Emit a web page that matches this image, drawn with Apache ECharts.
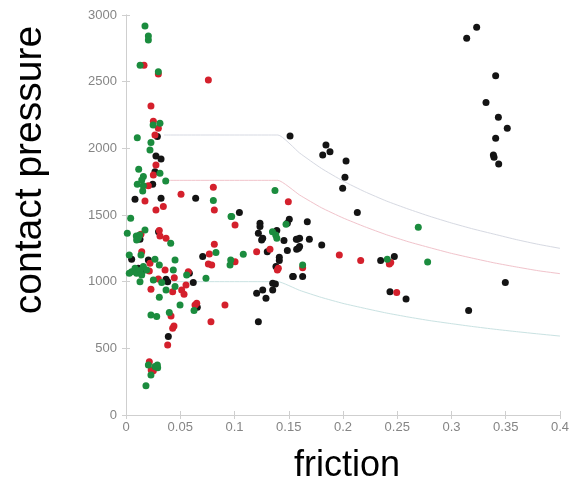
<!DOCTYPE html>
<html>
<head>
<meta charset="utf-8">
<script src="https://cdn.jsdelivr.net/npm/echarts@6/dist/echarts.min.js"></script>
<style>html,body{margin:0;padding:0;background:#fff}#c{width:574px;height:481px}</style>
</head>
<body>
<div id="c"></div>
<script>
// ---- data (friction, contact pressure) ----
const xTicks = [0, 0.05, 0.1, 0.15, 0.2, 0.25, 0.3, 0.35, 0.4];
const yTicks = [0, 500, 1000, 1500, 2000, 2500, 3000];

const blackPoints = [
  [0.0289,2088],[0.0276,1943],[0.0323,1920],[0.0267,1825],[0.0246,1730],[0.0083,1618],[0.0323,1625],[0.0642,1625],[0.1045,1518],
  [0.0129,1318],[0.0300,1375],[0.0052,1168],[0.0206,1163],[0.0113,1100],[0.0160,1085],[0.0369,1018],[0.0384,1000],[0.0584,1063],
  [0.0620,993],[0.0707,1188],[0.0657,808],[0.0390,588],
  [0.1235,1438],[0.1235,1413],[0.1220,1363],[0.1250,1313],[0.1260,1325],
  [0.1204,913],[0.1260,938],[0.1290,875],[0.1220,700],
  [0.1390,1383],[0.1505,1468],[0.1487,1438],[0.1456,1308],[0.1580,1318],[0.1302,1225],[0.1487,1233],[0.1573,1243],
  [0.1413,1158],[0.1413,1183],[0.1382,1113],[0.1542,1038],[0.1352,988],[0.1377,983],[0.1352,938],
  [0.1512,2093],[0.1843,2025],[0.1813,1950],[0.1880,1975],[0.2028,1905],[0.2018,1783],[0.1997,1700],[0.2132,1518],
  [0.1671,1450],[0.1570,1318],[0.1600,1325],[0.1690,1318],[0.1590,1250],[0.1600,1263],[0.1804,1275],[0.1536,1038],[0.1628,1038],
  [0.2347,1158],[0.2473,1188],[0.2433,925],[0.2581,870],
  [0.3140,2825],[0.3232,2908],[0.3407,2545],[0.3318,2343],[0.3432,2233],[0.3514,2150],[0.3407,2075],
  [0.3386,1950],[0.3392,1933],[0.3435,1883],[0.3496,993],[0.3158,783]
];

const redPoints = [
  [0.0166,2623],[0.0298,2558],[0.0759,2513],[0.0230,2318],[0.0252,2203],[0.0298,2150],[0.0267,2100],[0.0276,1875],
  [0.0252,1800],[0.0206,1720],[0.0507,1655],[0.0805,1708],[0.0175,1605],[0.0276,1538],[0.0344,1563],[0.0814,1538],
  [0.0138,1355],[0.0307,1383],[0.0313,1343],[0.0369,1325],[0.0145,1225],[0.0221,1138],[0.0215,1080],[0.0230,943],
  [0.0298,1020],[0.0360,1088],[0.0445,1030],[0.0430,925],[0.0513,938],[0.0535,905],[0.0553,975],[0.0574,1075],
  [0.0759,1133],[0.0814,1280],[0.0768,1208],[0.0636,825],[0.0652,838],[0.0783,700],[0.0912,825],[0.1005,1150],
  [0.1204,1225],[0.1005,1425],[0.0384,525],[0.0430,650],[0.0442,668],[0.0215,400],[0.0232,338],[0.0252,332],[0.0415,743],
  [0.1496,1600],[0.0790,1125],[0.1327,1243],[0.1404,1100],[0.1395,1088],[0.1966,1200],[0.2163,1158],[0.1628,1105],
  [0.2427,1133],[0.2440,1143],[0.2495,918]
];

const greenPoints = [
  [0.0175,2918],[0.0206,2843],[0.0206,2813],[0.0130,2623],[0.0298,2575],[0.0313,2188],[0.0250,2175],[0.0104,2080],
  [0.0230,2043],[0.0221,1988],[0.0117,1843],[0.0313,1813],[0.0160,1788],[0.0145,1763],[0.0366,1755],[0.0104,1730],
  [0.0160,1720],[0.0154,1680],[0.1373,1683],[0.0805,1608],[0.0968,1488],[0.0043,1475],
  [0.0012,1363],[0.0175,1388],[0.0095,1343],[0.0125,1350],[0.0113,1325],[0.0098,1313],[0.0412,1288],[0.0138,1200],
  [0.0030,1200],[0.0267,1168],[0.0307,1125],[0.0452,1163],
  [0.0052,1075],[0.0083,1100],[0.0098,1063],[0.0129,1083],[0.0145,1050],[0.0160,1113],[0.0190,1088],[0.0030,1063],
  [0.0129,1000],[0.0252,1013],[0.0329,993],[0.0307,883],[0.0369,938],[0.0452,963],[0.0436,1088],[0.0498,825],
  [0.0559,1050],[0.0627,783],[0.0737,1025],[0.0829,1218],[0.0965,1163],[0.0959,1125],[0.1081,1205],[0.0974,1488],
  [0.0230,750],[0.0283,738],[0.0399,768],
  [0.0206,375],[0.0267,363],[0.0292,355],[0.0289,375],[0.0230,300],[0.0184,220],
  [0.1350,1375],[0.1380,1350],[0.1390,1325],[0.1475,1430],[0.1628,1125],[0.2694,1408],[0.2780,1148],[0.2408,1168]
];

// limit curves
const upperCurve = [
  [0.035,2100],[0.14,2100],[0.16,1965],[0.18,1850],[0.20,1755],[0.22,1675],[0.24,1605],[0.26,1545],
  [0.28,1490],[0.30,1440],[0.32,1395],[0.34,1355],[0.36,1315],[0.38,1280],[0.40,1250]
];
const middleCurve = [
  [0.035,1760],[0.14,1760],[0.16,1650],[0.18,1555],[0.20,1478],[0.22,1412],[0.24,1352],[0.26,1300],
  [0.28,1255],[0.30,1212],[0.32,1175],[0.34,1140],[0.36,1110],[0.38,1082],[0.40,1060]
];
const lowerCurve = [
  [0.035,1000],[0.14,1000],[0.16,935],[0.18,882],[0.20,837],[0.22,800],[0.24,765],[0.26,735],
  [0.28,708],[0.30,685],[0.32,663],[0.34,643],[0.36,625],[0.38,608],[0.40,592]
];

const chart = echarts.init(document.getElementById('c'), null, {renderer: 'canvas'});
const axisGray = '#cfcfcf';
const labelGray = '#858585';
const fontFam = '"Liberation Sans", Arial, sans-serif';

function lineSeries(data, color) {
  return {
    type: 'line', data: data, showSymbol: false, smooth: 0.15, silent: true, z: 1,
    lineStyle: {color: color, width: 1}
  };
}
function scatterSeries(data, color) {
  return {
    type: 'scatter', data: data, symbolSize: 7, z: 3,
    itemStyle: {color: color, opacity: 1}
  };
}

chart.setOption({
  animation: false,
  backgroundColor: '#ffffff',
  grid: {left: 126, right: 14, top: 15, bottom: 66, containLabel: false, outerBoundsMode: 'none'},
  xAxis: [{
    type: 'value', min: 0, max: 0.4, interval: 0.05, position: 'bottom',
    name: 'friction', nameLocation: 'middle', nameGap: 33,
    nameTextStyle: {fontSize: 36, color: '#000', fontFamily: fontFam, padding: [0, 0, 0, 8]},
    axisLine: {show: true, lineStyle: {color: axisGray, width: 1}},
    axisTick: {show: true, inside: true, length: 4, lineStyle: {color: axisGray}},
    axisLabel: {color: labelGray, fontSize: 13, fontFamily: fontFam, margin: 6,
      formatter: v => { const t = xTicks.find(x => Math.abs(x - v) < 1e-9); return t === undefined ? '' : String(t); }},
    splitLine: {show: false}
  }, {
    type: 'value', min: 0, max: 0.4, interval: 0.05, position: 'top',
    axisLine: {show: true, lineStyle: {color: axisGray, width: 1}},
    axisTick: {show: true, inside: true, length: 4, lineStyle: {color: axisGray}},
    axisLabel: {show: false}, splitLine: {show: false}
  }],
  yAxis: [{
    type: 'value', min: 0, max: 3000, interval: 500, position: 'left',
    name: 'contact pressure', nameLocation: 'middle', nameGap: 76, nameRotate: 90,
    nameTextStyle: {fontSize: 39, color: '#000', fontFamily: fontFam, padding: [0, 0, 0, 90]},
    axisLine: {show: true, lineStyle: {color: axisGray, width: 1}},
    axisTick: {show: true, inside: true, length: 4, lineStyle: {color: axisGray}},
    axisLabel: {color: labelGray, fontSize: 13, fontFamily: fontFam, margin: 9,
      formatter: v => { const t = yTicks.find(y => y === v); return t === undefined ? '' : String(t); }},
    splitLine: {show: false}
  }, {
    type: 'value', min: 0, max: 3000, interval: 500, position: 'right',
    axisLine: {show: true, lineStyle: {color: axisGray, width: 1}},
    axisTick: {show: true, inside: true, length: 4, lineStyle: {color: axisGray}},
    axisLabel: {show: false}, splitLine: {show: false}
  }],
  series: [
    lineSeries(upperCurve, '#d6d9e2'),
    lineSeries(middleCurve, '#f1c3cb'),
    lineSeries(lowerCurve, '#c9e2e2'),
    scatterSeries(blackPoints, '#141414'),
    scatterSeries(redPoints, '#d4202c'),
    scatterSeries(greenPoints, '#1b8c3e')
  ]
});
</script>
</body>
</html>
